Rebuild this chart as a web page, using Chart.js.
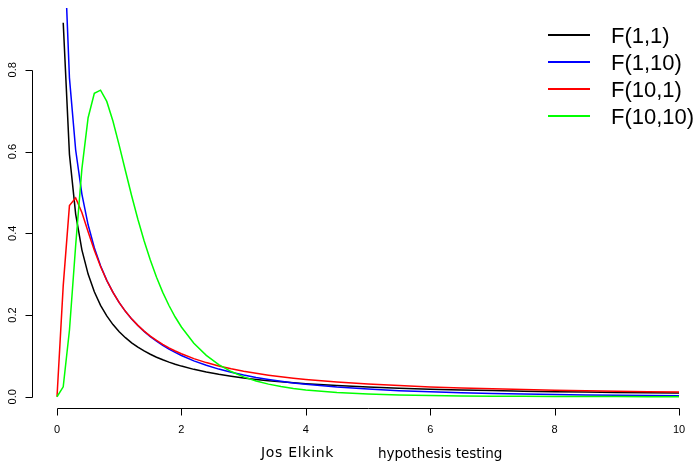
<!DOCTYPE html>
<html>
<head>
<meta charset="utf-8">
<script src="https://cdn.jsdelivr.net/npm/chart.js@4/dist/chart.umd.min.js"></script>
<style>
html,body{margin:0;padding:0;background:#fff;overflow:hidden}
#wrap{position:relative;width:697px;height:462px;background:#fff}
#c{position:absolute;left:0;top:0}
.lg{position:absolute;left:611px;font-family:"Liberation Sans",Arial,sans-serif;font-size:22px;line-height:25px;color:#000;white-space:nowrap}
.ll{position:absolute;left:548px;width:42px;height:2px}
.ft{position:absolute;top:445px;font-family:"DejaVu Sans",sans-serif;font-size:13.5px;line-height:normal;color:#000;white-space:nowrap}
</style>
</head>
<body>
<div id="wrap">
<canvas id="c" width="697" height="462"></canvas>
<div class="ll" style="top:34px;background:#000"></div>
<div class="ll" style="top:61px;background:#0000ff"></div>
<div class="ll" style="top:88px;background:#ff0000"></div>
<div class="ll" style="top:115px;background:#00ff00"></div>
<div class="lg" style="top:23px">F(1,1)</div>
<div class="lg" style="top:50px">F(1,10)</div>
<div class="lg" style="top:77px">F(10,1)</div>
<div class="lg" style="top:104px">F(10,10)</div>
<div class="ft" style="left:261px;font-size:14px;top:444px;letter-spacing:0.7px">Jos Elkink</div>
<div class="ft" style="left:378px">hypothesis testing</div>
</div>
<script>
// x positions of the evaluated points
const xs = [0,0.1,0.2,0.3,0.4,0.5,0.6,0.7,0.8,0.9,1.0,1.1,1.2,1.3,1.4,1.5,1.6,1.7,1.8,1.9,2.0,
  2.2,2.4,2.6,2.8,3.0,3.2,3.4,3.6,3.8,4.0,
  4.5,5.0,5.5,6.0,6.5,7.0,7.5,8.0,8.5,9.0,9.5,10];

const f_1_1 = [null,0.91508,0.59314,0.44704,0.35949,0.30011,0.25684,0.22380,0.19771,0.17660,0.15915,0.14452,0.13208,0.12138,0.11209,0.10396,0.09679,0.09042,0.08473,0.07963,0.07503,
  0.06706,0.06043,0.05484,0.05006,0.04594,0.04237,0.03923,0.03647,0.03402,0.03183,
  0.02728,0.02373,0.02088,0.01856,0.01665,0.01504,0.01367,0.01250,0.01149,0.01061,0.00984,0.00915];

const f_1_10 = [null,1.16494,0.78029,0.60382,0.49586,0.42077,0.36459,0.32056,0.28490,0.25533,0.23036,0.20898,0.19045,0.17425,0.15997,0.14730,0.13599,0.12584,0.11670,0.10844,0.10094,
  0.08788,0.07694,0.06770,0.05982,0.05307,0.04724,0.04220,0.03780,0.03395,0.03057,
  0.02377,0.01871,0.01490,0.01198,0.00972,0.00794,0.00654,0.00543,0.00453,0.00380,0.00321,0.00272];

const f_10_1 = [0,0.27190,0.46776,0.48666,0.45079,0.40376,0.35862,0.31876,0.28451,0.25529,0.23036,0.20900,0.19059,0.17464,0.16073,0.14852,0.13775,0.12819,0.11968,0.11205,0.10519,
  0.09338,0.08361,0.07542,0.06847,0.06253,0.05739,0.05292,0.04900,0.04554,0.04246,
  0.03612,0.03121,0.02732,0.02417,0.02159,0.01943,0.01761,0.01606,0.01472,0.01356,0.01254,0.01165];

const f_10_10 = [0,0.02429,0.16280,0.37016,0.55757,0.68283,0.74258,0.75032,0.72273,0.67418,0.61523,0.55299,0.49186,0.43434,0.38172,0.33443,0.29248,0.25556,0.22328,0.19515,0.17071,
  0.13108,0.10125,0.07874,0.06168,0.04867,0.03868,0.03095,0.02494,0.02023,0.01652,
  0.01020,0.00651,0.00428,0.00289,0.00200,0.00141,0.00101,0.00074,0.00055,0.00041,0.00032,0.00024];

const xTicks = [0,2,4,6,8,10];
const xTickLabels = ["0","2","4","6","8","10"];
const yTicks = [0,0.2,0.4,0.6,0.8];
const yTickLabels = ["0.0","0.2","0.4","0.6","0.8"];

const seriesNames = ["F(1,1)","F(1,10)","F(10,1)","F(10,10)"];
const seriesColors = ["#000000","#0000ff","#ff0000","#00ff00"];
const seriesData = [f_1_1,f_1_10,f_10_1,f_10_10];

const toPts = arr => xs.map((x,i)=>({x:x,y:arr[i]}));

const rAxes = {
  id:'rAxes',
  afterDraw(chart){
    const ctx = chart.ctx, x = chart.scales.x, y = chart.scales.y, ca = chart.chartArea;
    ctx.save();
    ctx.strokeStyle = '#000'; ctx.fillStyle = '#000'; ctx.lineWidth = 1;
    const yb = Math.round(ca.bottom) + 0.5;
    ctx.beginPath();
    ctx.moveTo(Math.round(x.getPixelForValue(xTicks[0]))+0.5, yb);
    ctx.lineTo(Math.round(x.getPixelForValue(xTicks[xTicks.length-1]))+0.5, yb);
    xTicks.forEach(v=>{const p=Math.round(x.getPixelForValue(v))+0.5; ctx.moveTo(p,yb); ctx.lineTo(p,yb+7);});
    const xl = Math.round(ca.left) + 0.5;
    ctx.moveTo(xl, Math.round(y.getPixelForValue(yTicks[0]))+0.5);
    ctx.lineTo(xl, Math.round(y.getPixelForValue(yTicks[yTicks.length-1]))+0.5);
    yTicks.forEach(v=>{const p=Math.round(y.getPixelForValue(v))+0.5; ctx.moveTo(xl,p); ctx.lineTo(xl-7,p);});
    ctx.stroke();
    ctx.font = '11px "Liberation Sans", Arial, sans-serif';
    ctx.textAlign = 'center'; ctx.textBaseline = 'middle';
    xTicks.forEach((v,i)=>{ctx.fillText(xTickLabels[i], x.getPixelForValue(v), 429.5);});
    yTicks.forEach((v,i)=>{
      ctx.save();
      ctx.translate(12.5, y.getPixelForValue(v));
      ctx.rotate(-Math.PI/2);
      ctx.fillText(yTickLabels[i], 0, 0);
      ctx.restore();
    });
    ctx.restore();
  }
};

new Chart(document.getElementById('c'), {
  type:'line',
  data:{
    datasets: seriesData.map((d,i)=>({
      label: seriesNames[i],
      data: toPts(d),
      borderColor: seriesColors[i],
      backgroundColor: seriesColors[i],
      borderWidth: 1.5,
      pointRadius: 0,
      tension: 0,
      fill: false,
      spanGaps: false,
      order: 3 - i
    }))
  },
  options:{
    responsive:false,
    animation:false,
    devicePixelRatio:1,
    layout:{padding:{left:32,top:8,right:0,bottom:54}},
    plugins:{legend:{display:false},tooltip:{enabled:false}},
    scales:{
      x:{type:'linear',display:false,min:-0.402,max:10.289},
      y:{type:'linear',display:false,min:-0.0275,max:0.9513}
    }
  },
  plugins:[rAxes]
});
</script>
</body>
</html>
